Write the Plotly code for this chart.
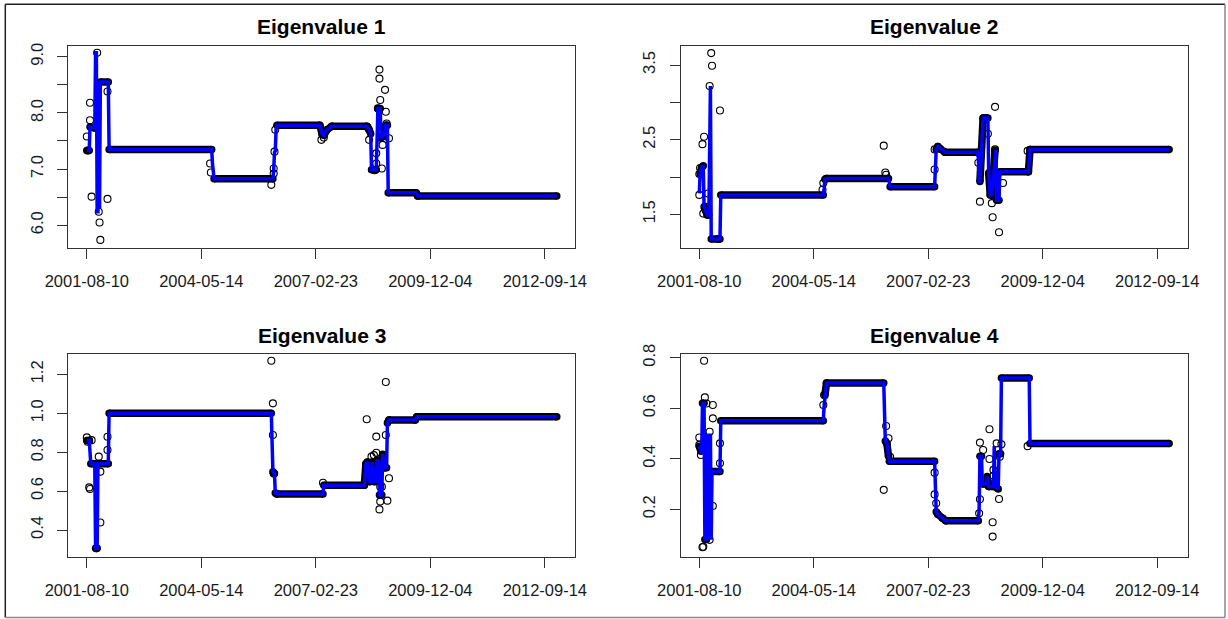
import plotly.graph_objects as go

# ---------------- data (weekly observation index, value) ----------------
tick_idx = [0, 144, 288, 432, 576]
tick_dates = ["2001-08-10", "2004-05-14", "2007-02-23", "2009-12-04", "2012-09-14"]

# Eigenvalue 1
ev1_line_x = [0, 3, 4, 10, 11, 12, 13, 14, 15, 16, 17, 27, 28, 157, 158, 159, 160, 234, 235, 236, 237, 238, 239,
              293, 296, 298, 302, 308, 352, 355, 357, 358, 364, 365, 366, 369, 370, 374, 376, 378, 379, 414, 416, 591]
ev1_line_y = [7.33, 7.33, 7.75, 7.73, 9.07, 9.07, 6.24, 6.24, 8.55, 6.30, 8.55, 8.55, 7.35, 7.35, 7.10, 6.94, 6.83,
              6.83, 6.98, 7.30, 7.32, 7.70, 7.78, 7.78, 7.62, 7.60, 7.70, 7.76, 7.76, 7.70, 7.63, 6.99, 6.99, 7.50,
              8.08, 8.08, 7.55, 7.62, 7.78, 7.78, 6.58, 6.58, 6.52, 6.52]
ev1_pts_x = [0, 4, 4, 10, 6, 13, 15, 16, 17, 26, 26, 1, 155, 156, 232, 235, 235, 236, 237,
             295, 298, 353, 355, 368, 368, 375, 369, 366, 376, 377, 380, 372, 371, 364, 364, 371, 362]
ev1_pts_y = [7.58, 8.18, 7.87, 7.74, 6.51, 9.07, 6.24, 6.05, 5.74, 8.38, 6.47, 7.33, 7.10, 6.94, 6.72, 6.92, 7.01, 7.31, 7.70,
             7.52, 7.56, 7.75, 7.52, 8.77, 8.61, 8.41, 8.23, 8.08, 8.02, 7.81, 7.55, 7.43, 7.58, 7.28, 7.10, 7.01, 6.98]

# Eigenvalue 2
ev2_line_x = [0, 1, 3, 5, 6, 8, 10, 12, 13, 14, 15, 26, 27, 156, 157, 158, 160, 238, 239, 240, 296, 297, 298, 300, 303,
              309, 350, 351, 352, 353, 357, 363, 364, 366, 368, 372, 373, 374, 377, 378, 414, 416, 591]
ev2_line_y = [1.78, 2.04, 2.13, 2.15, 1.60, 1.55, 1.49, 1.49, 3.22, 3.22, 1.17, 1.17, 1.76, 1.76, 1.85, 1.97, 1.98,
              1.98, 1.93, 1.87, 1.87, 2.10, 2.37, 2.41, 2.38, 2.33, 2.33, 2.25, 1.94, 1.94, 2.79, 2.79, 2.05, 1.76,
              1.76, 2.36, 2.36, 1.69, 1.69, 2.07, 2.07, 2.37, 2.37]
ev2_pts_x = [0, 0, 1, 4, 6, 5, 8, 11, 15, 16, 13, 26, 24, 155, 156, 232, 234, 235,
             296, 296, 351, 353, 363, 360, 365, 372, 372, 368, 369, 374, 377, 382, 413]
ev2_pts_y = [1.76, 2.04, 2.12, 2.44, 2.54, 1.51, 1.60, 1.78, 3.66, 3.49, 3.22, 2.89, 1.17, 1.83, 1.92, 2.42, 2.06, 2.03,
             2.10, 2.37, 2.19, 1.67, 2.58, 2.79, 2.06, 2.94, 2.37, 1.65, 1.46, 1.77, 1.26, 1.92, 2.35]

# Eigenvalue 3
ev3_line_x = [0, 3, 4, 5, 10, 11, 13, 14, 27, 28, 232, 233, 234, 236, 237, 239, 297, 298, 349, 351, 353, 355, 357,
              359, 361, 363, 365, 367, 368, 371, 372, 374, 377, 378, 380, 413, 415, 591]
ev3_line_y = [0.86, 0.86, 0.80, 0.74, 0.74, 0.306, 0.306, 0.74, 0.74, 1.0, 1.0, 0.89, 0.70, 0.69, 0.59, 0.585, 0.585,
              0.63, 0.63, 0.74, 0.75, 0.65, 0.65, 0.75, 0.65, 0.65, 0.76, 0.75, 0.58, 0.58, 0.79, 0.72, 0.72, 0.95,
              0.965, 0.965, 0.982, 0.982]
ev3_pts_x = [0, 1, 3, 6, 3, 4, 15, 17, 17, 26, 26, 232, 234, 234, 235, 12,
             297, 352, 376, 364, 376, 364, 358, 354, 369, 369, 378, 368, 380, 361, 371]
ev3_pts_y = [0.876, 0.854, 0.859, 0.862, 0.619, 0.611, 0.777, 0.70, 0.439, 0.879, 0.811, 1.27, 1.051, 0.888, 0.69, 0.306,
             0.643, 0.969, 1.161, 0.880, 0.888, 0.797, 0.777, 0.743, 0.623, 0.546, 0.551, 0.506, 0.666, 0.785, 0.623]

# Eigenvalue 4
ev4_line_x = [0, 2, 3, 4, 6, 7, 9, 10, 11, 12, 13, 14, 15, 16, 26, 27, 156, 157, 158, 160, 232, 233, 234, 236, 238, 239,
              296, 297, 298, 300, 306, 310, 351, 352, 353, 355, 356, 361, 362, 364, 370, 371, 372, 376, 377, 379, 380,
              415, 416, 591]
ev4_line_y = [0.45, 0.43, 0.42, 0.62, 0.62, 0.08, 0.08, 0.50, 0.08, 0.50, 0.08, 0.50, 0.08, 0.35, 0.35, 0.55, 0.55,
              0.61, 0.65, 0.70, 0.70, 0.53, 0.47, 0.46, 0.41, 0.39, 0.39, 0.30, 0.19, 0.18, 0.165, 0.155, 0.155, 0.20,
              0.41, 0.41, 0.30, 0.30, 0.33, 0.29, 0.29, 0.45, 0.29, 0.28, 0.42, 0.42, 0.72, 0.72, 0.46, 0.46]
ev4_pts_x = [0, 0, 2, 6, 7, 9, 5, 4, 13, 17, 17, 17, 13, 26, 26, 156, 157, 232, 235, 238, 240,
             296, 296, 298, 352, 353, 353, 365, 357, 365, 370, 370, 371, 377, 369, 369, 374, 380, 378, 413]
ev4_pts_y = [0.455, 0.484, 0.415, 0.788, 0.643, 0.619, 0.052, 0.050, 0.079, 0.213, 0.613, 0.560, 0.507, 0.461, 0.382,
             0.613, 0.652, 0.277, 0.530, 0.481, 0.408, 0.345, 0.259, 0.224, 0.184, 0.240, 0.464, 0.517, 0.435, 0.399,
             0.356, 0.333, 0.303, 0.241, 0.149, 0.092, 0.461, 0.457, 0.408, 0.45]

# ---------------- figure ----------------
W, H = 1228, 619
FONT = "Liberation Sans, Arial, sans-serif"

panels = [
    dict(title="Eigenvalue 1", lx=ev1_line_x, ly=ev1_line_y, px=ev1_pts_x, py=ev1_pts_y,
         box=(68.3, 46, 575.3, 248), xr=[-23.3, 614.3], yr=[5.596, 9.19],
         yt=[6.0, 6.5, 7.0, 7.5, 8.0, 8.5, 9.0], ytt=["6.0", "", "7.0", "", "8.0", "", "9.0"]),
    dict(title="Eigenvalue 2", lx=ev2_line_x, ly=ev2_line_y, px=ev2_pts_x, py=ev2_pts_y,
         box=(680.7, 46, 1188.3, 247.7), xr=[-23.4, 615.1], yr=[1.053, 3.755],
         yt=[1.5, 2.0, 2.5, 3.0, 3.5], ytt=["1.5", "", "2.5", "", "3.5"]),
    dict(title="Eigenvalue 3", lx=ev3_line_x, ly=ev3_line_y, px=ev3_pts_x, py=ev3_pts_y,
         box=(68.3, 354.3, 575.3, 556.7), xr=[-23.3, 614.3], yr=[0.263, 1.303],
         yt=[0.4, 0.6, 0.8, 1.0, 1.2], ytt=["0.4", "0.6", "0.8", "1.0", "1.2"]),
    dict(title="Eigenvalue 4", lx=ev4_line_x, ly=ev4_line_y, px=ev4_pts_x, py=ev4_pts_y,
         box=(680.7, 354.3, 1188.3, 556.7), xr=[-23.4, 615.1], yr=[0.0124, 0.8135],
         yt=[0.2, 0.4, 0.6, 0.8], ytt=["0.2", "0.4", "0.6", "0.8"]),
]

fig = go.Figure()
annotations = []
for k, p in enumerate(panels, start=1):
    xa = "x" if k == 1 else f"x{k}"
    ya = "y" if k == 1 else f"y{k}"
    lx, ly = p["lx"], p["ly"]
    # dense runs of points sitting on the fitted level -> solid black band
    bx, by, ex, ey = [], [], [], []
    for i in range(len(lx) - 1):
        if lx[i + 1] - lx[i] >= 2:
            bx += [lx[i], lx[i + 1], None]
            by += [ly[i], ly[i + 1], None]
            ex += [lx[i], lx[i + 1]]
            ey += [ly[i], ly[i + 1]]
    fig.add_trace(go.Scatter(x=p["px"], y=p["py"], mode="markers", xaxis=xa, yaxis=ya,
                             marker=dict(symbol="circle-open", size=7, color="black", line=dict(width=1.1)),
                             showlegend=False, hoverinfo="skip"))
    fig.add_trace(go.Scatter(x=bx, y=by, mode="lines", xaxis=xa, yaxis=ya,
                             line=dict(color="black", width=7.5), showlegend=False, hoverinfo="skip"))
    fig.add_trace(go.Scatter(x=ex, y=ey, mode="markers", xaxis=xa, yaxis=ya,
                             marker=dict(symbol="circle", size=7.5, color="black"),
                             showlegend=False, hoverinfo="skip"))
    fig.add_trace(go.Scatter(x=lx, y=ly, mode="lines", xaxis=xa, yaxis=ya,
                             line=dict(color="#0000FF", width=3.5), showlegend=False, hoverinfo="skip"))

    x0, y0, x1, y1 = p["box"]
    axis_common = dict(showline=True, mirror=True, linecolor="#333333", linewidth=1,
                       ticks="outside", ticklen=10, tickcolor="#333333", tickwidth=1,
                       showgrid=False, zeroline=False, fixedrange=True, automargin=False,
                       tickfont=dict(family=FONT, size=16.5, color="#1a1a1a"))
    fig.update_layout(**{
        ("xaxis" if k == 1 else f"xaxis{k}"): dict(
            domain=[x0 / W, x1 / W], range=p["xr"], anchor=ya,
            tickmode="array", tickvals=tick_idx, ticktext=tick_dates, ticklabelstandoff=8, **axis_common),
        ("yaxis" if k == 1 else f"yaxis{k}"): dict(
            domain=[1 - y1 / H, 1 - y0 / H], range=p["yr"], anchor=xa,
            tickmode="array", tickvals=p["yt"], ticktext=p["ytt"], tickangle=-90,
            ticklabelstandoff=8, **axis_common),
    })
    annotations.append(dict(text=f"<b>{p['title']}</b>", xref="paper", yref="paper",
                            x=(x0 + x1) / 2 / W, y=1 - (y0 - 19) / H, xanchor="center", yanchor="middle",
                            showarrow=False, font=dict(family=FONT, size=21, color="black")))

shapes = [
    dict(type="line", xref="paper", yref="paper", x0=5.3 / W, x1=1225 / W, y0=1 - 4.3 / H, y1=1 - 4.3 / H,
         line=dict(color="#222222", width=1.5)),
    dict(type="line", xref="paper", yref="paper", x0=5.3 / W, x1=5.3 / W, y0=1 - 4.3 / H, y1=1 - 617.5 / H,
         line=dict(color="#222222", width=1.5)),
    dict(type="line", xref="paper", yref="paper", x0=1225 / W, x1=1225 / W, y0=1 - 4.3 / H, y1=1 - 617.5 / H,
         line=dict(color="#888888", width=1.5)),
    dict(type="line", xref="paper", yref="paper", x0=5.3 / W, x1=1225 / W, y0=1 - 617.5 / H, y1=1 - 617.5 / H,
         line=dict(color="#888888", width=1.5)),
]

fig.update_layout(template="none", width=W, height=H,
                  margin=dict(l=0, r=0, t=0, b=0, pad=0, autoexpand=False),
                  paper_bgcolor="white", plot_bgcolor="white",
                  annotations=annotations, shapes=shapes, showlegend=False)

fig.write_html("out.html", config={"displayModeBar": False})
